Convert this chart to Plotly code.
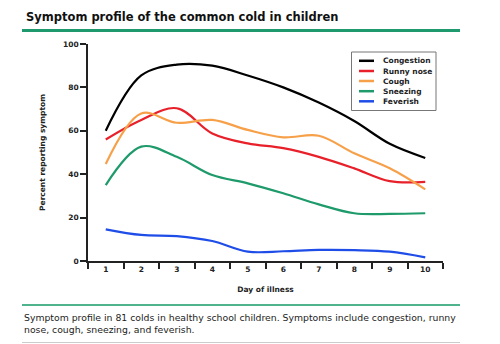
import plotly.graph_objects as go

days = [1, 2, 3, 4, 5, 6, 7, 8, 9, 10]
congestion = [60, 85.5, 90.5, 90, 85.5, 80, 73, 64.5, 54, 47.5]
runny_nose = [56, 65, 70.4, 58.8, 54.2, 52, 48, 42.7, 36.8, 36.5]
cough = [44.7, 68, 63.7, 65, 60.4, 57, 57.7, 49.6, 42.7, 33]
sneezing = [35, 52.7, 48, 39.6, 35.8, 31.2, 26.1, 22, 21.7, 22]
feverish = [14.6, 12, 11.5, 9.2, 4.3, 4.5, 5.1, 5, 4.3, 1.7]

series_names = ["Congestion", "Runny nose", "Cough", "Sneezing", "Feverish"]
series_values = [congestion, runny_nose, cough, sneezing, feverish]
series_colors = ["#000000", "#e8202a", "#f7a04a", "#1e9a6b", "#1f4de8"]

x_tick_labels = [str(d) for d in days]
y_tick_vals = [0, 20, 40, 60, 80, 100]
half_ticks = [d - 0.5 for d in days] + [10.5]

FONT = "Verdana, DejaVu Sans, sans-serif"

fig = go.Figure()
for name, vals, col in zip(series_names, series_values, series_colors):
    fig.add_trace(go.Scatter(
        x=days, y=vals, name=name, mode="lines", showlegend=False,
        line=dict(color=col, width=2.2, shape="spline", smoothing=1.0),
    ))

# plot area: x 88..443 px, y 44..261 px
L, R, T, B = 88, 443, 44, 261
W, H = 500, 344

def px(x):
    return (x - L) / (R - L)

def py(y):
    return (B - y) / (B - T)

shapes = [
    dict(type="line", xref="paper", yref="paper",
         x0=px(22), x1=px(460), y0=py(30.5), y1=py(30.5),
         line=dict(color="#1f9a6e", width=3)),
    dict(type="line", xref="paper", yref="paper",
         x0=px(22), x1=px(460), y0=py(305), y1=py(305),
         line=dict(color="#4fb38e", width=2)),
    dict(type="line", xref="paper", yref="paper",
         x0=px(22), x1=px(460), y0=py(342.5), y1=py(342.5),
         line=dict(color="#cccccc", width=1)),
    # legend box
    dict(type="rect", xref="paper", yref="paper",
         x0=px(351.5), x1=px(436), y0=py(52), y1=py(110.5),
         line=dict(color="#777777", width=1), fillcolor="white", layer="above"),
]
annotations = [
    dict(text="<b>Symptom profile of the common cold in children</b>",
         xref="paper", yref="paper", x=px(24), y=py(17),
         xanchor="left", yanchor="middle", showarrow=False,
         font=dict(family=FONT, size=11.5, color="#111111")),
    dict(text="Symptom profile in 81 colds in healthy school children. Symptoms include congestion, runny<br>nose, cough, sneezing, and feverish.",
         xref="paper", yref="paper", x=px(22), y=py(310),
         xanchor="left", yanchor="top", align="left", showarrow=False,
         font=dict(family=FONT, size=9.3, color="#222222")),
]
legend_rows = [60.8, 71, 81, 91.2, 101.3]
for name, col, yy in zip(series_names, series_colors, legend_rows):
    shapes.append(dict(type="line", xref="paper", yref="paper",
                       x0=px(359), x1=px(374), y0=py(yy), y1=py(yy),
                       line=dict(color=col, width=2.5), layer="above"))
    annotations.append(dict(text="<b>" + name + "</b>", xref="paper", yref="paper",
                            x=px(381), y=py(yy), xanchor="left", yanchor="middle",
                            showarrow=False,
                            font=dict(family=FONT, size=7.5, color="#222222")))

fig.update_layout(
    width=W, height=H,
    margin=dict(l=L, r=W - R, t=T, b=H - B),
    paper_bgcolor="white", plot_bgcolor="white",
    font=dict(family=FONT, color="#111111"),
    showlegend=False,
    xaxis=dict(
        range=[0.5, 10.5], tickvals=days, ticktext=x_tick_labels,
        ticks="", showgrid=False, zeroline=False,
        showline=True, linecolor="#222222", linewidth=1.5,
        tickfont=dict(family=FONT, size=7.5, weight="bold", color="#222222"),
        minor=dict(tickvals=half_ticks, ticks="outside", ticklen=6,
                   tickwidth=1.5, tickcolor="#222222", showgrid=False),
        title=dict(text="Day of illness", standoff=14,
                   font=dict(family=FONT, size=7.5, weight="bold", color="#222222")),
    ),
    yaxis=dict(
        range=[0, 100], tickvals=y_tick_vals,
        ticks="outside", ticklen=6, tickwidth=1.5, tickcolor="#222222",
        showgrid=False, zeroline=False,
        showline=True, linecolor="#222222", linewidth=1.5,
        tickfont=dict(family=FONT, size=7.5, weight="bold", color="#222222"),
        title=dict(text="Percent reporting symptom", standoff=16,
                   font=dict(family=FONT, size=7.5, weight="bold", color="#222222")),
    ),
    shapes=shapes,
    annotations=annotations,
)

fig.write_html("out.html")
